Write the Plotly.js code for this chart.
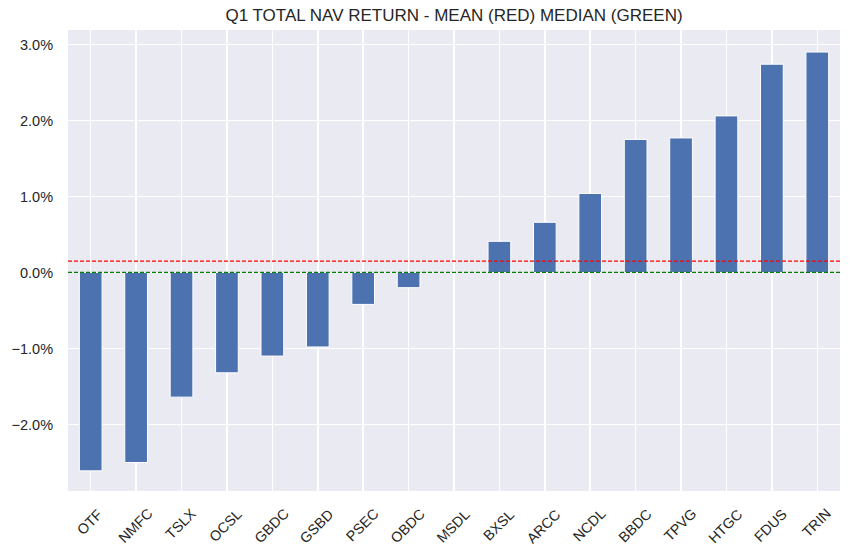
<!DOCTYPE html>
<html>
<head>
<meta charset="utf-8">
<script src="https://cdn.plot.ly/plotly-3.0.1.min.js"></script>
<style>html,body{margin:0;padding:0;background:#fff;}#chart{width:851px;height:556px;}</style>
</head>
<body>
<div id="chart"></div>
<script>
const tickers = ["OTF","NMFC","TSLX","OCSL","GBDC","GSBD","PSEC","OBDC","MSDL","BXSL","ARCC","NCDL","BBDC","TPVG","HTGC","FDUS","TRIN"];
const navReturn = [-2.61,-2.50,-1.64,-1.32,-1.10,-0.98,-0.42,-0.20,0.0,0.41,0.66,1.04,1.75,1.77,2.06,2.74,2.90];
const yTickVals = [-2,-1,0,1,2,3];
const yTickText = ["\u22122.0%","\u22121.0%","0.0%","1.0%","2.0%","3.0%"];
const titleText = "Q1 TOTAL NAV RETURN - MEAN (RED) MEDIAN (GREEN)";

const meanVal = navReturn.reduce((a,b)=>a+b,0)/navReturn.length;
const sorted = navReturn.slice().sort((a,b)=>a-b);
const mid = Math.floor(sorted.length/2);
const medianVal = sorted.length%2 ? sorted[mid] : (sorted[mid-1]+sorted[mid])/2;

const font = "Liberation Sans, Arial, sans-serif";
const txtColor = "#262626";
const trace = {
  type: "bar",
  x: tickers,
  y: navReturn,
  width: 0.5,
  marker: {color: "#4C72B0", line: {color: "#ffffff", width: 1}},
  hoverinfo: "x+y"
};
const xLabels = tickers.map(t => ({
  x: t, xref: "x", y: 0, yref: "paper", yshift: -12, xshift: -1,
  text: t, showarrow: false, textangle: -45,
  xanchor: "center", yanchor: "top",
  font: {family: font, size: 14.3, color: txtColor}
}));
const layout = {
  width: 851, height: 556,
  margin: {l: 68, r: 11, t: 30, b: 65, pad: 0},
  paper_bgcolor: "#ffffff",
  plot_bgcolor: "#EAEAF2",
  showlegend: false,
  title: {text: titleText, xref: "paper", x: 0.5, xanchor: "center", y: 0.973, yanchor: "middle",
          font: {family: font, size: 17, color: txtColor}},
  xaxis: {
    type: "category", range: [-0.5, tickers.length - 0.5],
    showgrid: true, gridcolor: "#ffffff", gridwidth: 1.5,
    zeroline: false, showline: false, ticks: "", showticklabels: false,
    fixedrange: true
  },
  yaxis: {
    range: [-2.875, 3.19],
    tickmode: "array", tickvals: yTickVals, ticktext: yTickText,
    showgrid: true, gridcolor: "#ffffff", gridwidth: 1.5,
    zeroline: false, showline: false,
    ticks: "outside", ticklen: 11, tickcolor: "rgba(0,0,0,0)",
    tickfont: {family: font, size: 14.5, color: txtColor},
    fixedrange: true
  },
  annotations: xLabels,
  shapes: [
    {type: "line", xref: "paper", x0: 0, x1: 1, yref: "y", y0: meanVal, y1: meanVal,
     line: {color: "#ff0000", width: 1.2, dash: "4px,2px"}, layer: "above"},
    {type: "line", xref: "paper", x0: 0, x1: 1, yref: "y", y0: medianVal, y1: medianVal,
     line: {color: "#008000", width: 1.2, dash: "4px,2px"}, layer: "above"}
  ],
  bargap: 0
};
Plotly.newPlot("chart", [trace], layout, {displayModeBar: false, staticPlot: true});
</script>
</body>
</html>
